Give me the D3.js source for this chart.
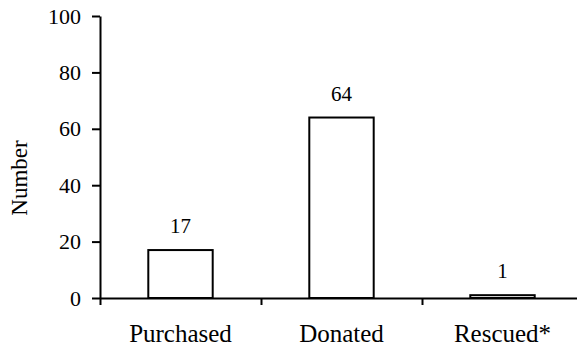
<!DOCTYPE html>
<html>
<head>
<meta charset="utf-8">
<script src="https://cdn.jsdelivr.net/npm/d3@7/dist/d3.min.js"></script>
<style>
html,body{margin:0;padding:0;background:#fff;}
svg{display:block;}
</style>
</head>
<body>
<svg id="chart" width="577" height="349"></svg>
<script>
const categories = ["Purchased", "Donated", "Rescued*"];
const values = [17, 64, 1];
const yTicks = [0, 20, 40, 60, 80, 100];
const yTitle = "Number";

(function () {
const FONT = "'Liberation Serif', 'Times New Roman', 'DejaVu Serif', serif";
const svg = d3.select("#chart");
const mLeft = 100, mRight = 583, mTop = 16, mBottom = 298;

const x = d3.scaleBand().domain(categories).range([mLeft, mRight])
  .paddingInner(0.6).paddingOuter(0.3);
const y = d3.scaleLinear().domain([0, 100]).range([mBottom, mTop]);
const xb = d3.scaleLinear().domain([0, categories.length]).range([mLeft, mRight]);

// bars
svg.append("g").selectAll("rect").data(values).join("rect")
  .attr("x", (d, i) => x(categories[i]))
  .attr("y", d => y(d))
  .attr("width", x.bandwidth())
  .attr("height", d => y(0) - y(d))
  .attr("fill", "#fff")
  .attr("stroke", "#000")
  .attr("stroke-width", 2);

// value labels
svg.append("g").selectAll("text").data(values).join("text")
  .attr("x", (d, i) => x(categories[i]) + x.bandwidth() / 2)
  .attr("y", d => y(d) - 17)
  .attr("text-anchor", "middle")
  .style("font-family", FONT)
  .style("font-size", "21px")
  .style("fill", "#000")
  .text(d => d);

// y axis
const ya = svg.append("g").attr("transform", `translate(${mLeft},0)`)
  .call(d3.axisLeft(y).tickValues(yTicks).tickSize(8).tickSizeOuter(0).tickPadding(11));
ya.attr("font-family", FONT).attr("font-size", 22);
ya.select(".domain").attr("stroke-width", 2);
ya.selectAll(".tick line").attr("stroke-width", 2);
ya.selectAll(".tick text").style("font-family", FONT).style("font-size", "22px").style("fill", "#000");

// x axis
const xa = svg.append("g").attr("transform", `translate(0,${mBottom})`)
  .call(d3.axisBottom(xb).tickValues(d3.range(categories.length + 1)).tickFormat("").tickSize(7).tickSizeOuter(0));
xa.select(".domain").attr("stroke-width", 2);
xa.selectAll(".tick line").attr("stroke-width", 2);

// x category labels
svg.append("g").selectAll("text").data(categories).join("text")
  .attr("x", d => x(d) + x.bandwidth() / 2)
  .attr("y", mBottom + 44)
  .attr("text-anchor", "middle")
  .style("font-family", FONT)
  .style("font-size", "25px")
  .style("fill", "#000")
  .text(d => d);

// y title
svg.append("text")
  .attr("transform", `translate(27,178) rotate(-90)`)
  .attr("text-anchor", "middle")
  .style("font-family", FONT)
  .style("font-size", "23px")
  .style("fill", "#000")
  .text(yTitle);
})();
</script>
</body>
</html>
